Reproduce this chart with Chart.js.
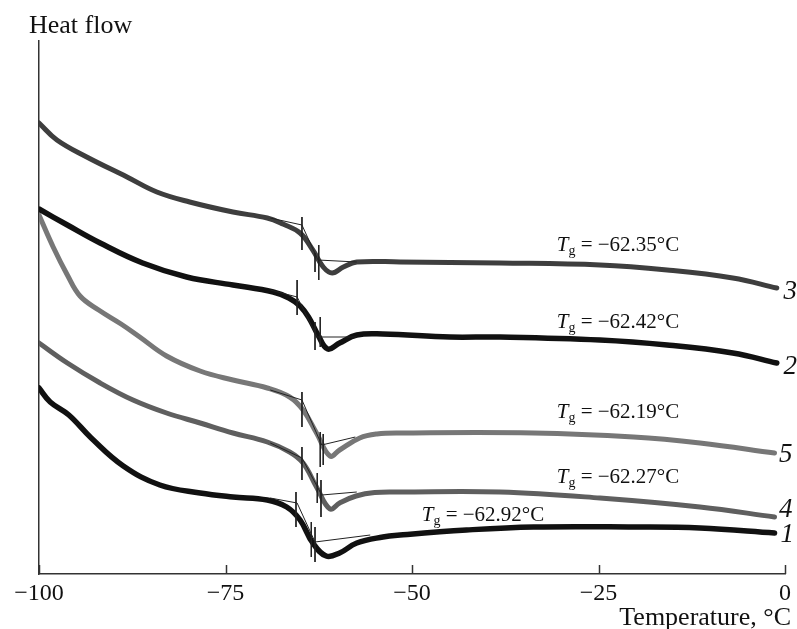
<!DOCTYPE html>
<html>
<head>
<meta charset="utf-8">
<script src="https://cdn.jsdelivr.net/npm/chart.js@4/dist/chart.umd.min.js"></script>
<style>
  body { margin: 0; background: #fff; }
</style>
</head>
<body>
<canvas id="dsc" width="797" height="629"></canvas>
<script>
// --- DATA (temperature in °C, heat flow in arbitrary units) ---
const tickTemps = [-100, -75, -50, -25, 0];

const temp3 = [-100, -97.6, -93.6, -88.2, -84.2, -79.8, -74.0, -69.4, -67.3, -65.0, -63.3, -61.9, -60.7, -59.2, -57.4, -51.6, -38.2, -24.8, -15.8, -7.0, -1.1];
const heat3 = [45.1, 43.4, 41.7, 39.7, 38.2, 37.2, 36.2, 35.6, 35.0, 34.1, 32.4, 30.7, 30.1, 30.7, 31.2, 31.2, 31.1, 30.9, 30.4, 29.6, 28.6];

const temp2 = [-100, -96.2, -91.8, -86.1, -80.2, -74.0, -68.6, -66.5, -65.0, -63.8, -62.6, -61.3, -59.7, -57.4, -53.9, -44.9, -38.2, -24.8, -15.8, -7.0, -1.1];
const heat2 = [36.5, 34.9, 33.1, 31.1, 29.7, 28.9, 28.2, 27.6, 26.8, 25.6, 23.9, 22.5, 23.1, 23.9, 24.0, 23.7, 23.7, 23.4, 22.9, 22.1, 21.1];

const temp5 = [-100, -98.1, -96.2, -94.5, -92.0, -89.0, -86.5, -82.9, -78.4, -74.0, -69.4, -66.4, -64.6, -62.8, -61.0, -59.7, -57.0, -54.7, -51.6, -33.7, -20.3, -11.4, -1.4];
const heat5 = [35.9, 32.7, 29.9, 27.8, 26.4, 25.0, 23.7, 21.8, 20.3, 19.4, 18.6, 17.7, 16.4, 14.1, 11.8, 12.4, 13.6, 14.0, 14.1, 14.1, 13.7, 13.1, 12.1];

const temp4 = [-100, -96.2, -91.8, -87.4, -82.9, -78.4, -74.0, -69.4, -66.4, -64.6, -62.8, -61.0, -59.7, -57.5, -55.0, -51.6, -38.2, -24.8, -11.4, -1.4];
const heat4 = [23.1, 21.1, 19.1, 17.4, 16.1, 15.1, 14.1, 13.2, 12.2, 11.1, 8.7, 6.5, 7.1, 7.8, 8.15, 8.2, 8.2, 7.6, 6.7, 5.7];

const temp1 = [-100, -98.5, -96.0, -93.0, -88.7, -83.8, -78.4, -74.0, -69.4, -66.8, -65.0, -63.3, -61.5, -59.7, -57.4, -53.9, -51.6, -42.7, -33.7, -20.3, -11.4, -1.4];
const heat1 = [18.6, 17.2, 15.9, 13.6, 10.8, 8.9, 8.1, 7.7, 7.4, 6.7, 5.4, 3.1, 1.8, 2.1, 3.1, 3.7, 3.9, 4.4, 4.7, 4.7, 4.6, 4.1];

// tangent construction lines around the glass transition
const guide3X = [-69.0, -64.75, -62.6, -57.4], guide3Y = [35.6, 34.9, 31.4, 31.2];
const guide2X = [-69.0, -65.4, -62.7, -57.4], guide2Y = [28.4, 27.7, 23.7, 23.7];
const guide5X = [-69.0, -64.75, -62.1, -57.6], guide5Y = [18.4, 17.4, 12.9, 13.7];
const guide4X = [-69.0, -64.75, -62.1, -57.4], guide4Y = [13.1, 11.6, 7.9, 8.2];
const guide1X = [-69.0, -65.4, -63.0, -55.6], guide1Y = [7.6, 7.1, 3.2, 3.9];

// short vertical markers (onset / midpoint / end)
const mark3X = [-64.75, -63.0, -62.5], mark3Top = [35.7, 32.1, 32.9], mark3Bot = [32.4, 30.2, 29.4];
const mark2X = [-65.4, -63.0, -62.3], mark2Top = [29.4, 25.2, 25.7], mark2Bot = [25.9, 22.4, 22.7];
const mark5X = [-64.75, -62.3, -61.9], mark5Top = [18.2, 14.2, 14.0], mark5Bot = [14.7, 10.7, 10.9];
const mark4X = [-64.75, -62.7, -62.2], mark4Top = [12.7, 10.1, 9.4], mark4Bot = [9.4, 7.1, 5.7];
const mark1X = [-65.55, -63.5, -63.0], mark1Top = [8.2, 5.2, 4.7], mark1Bot = [4.7, 1.7, 1.2];

// Tg annotations and curve numbers
const tgText = ['−62.35°C', '−62.42°C', '−62.19°C', '−62.27°C', '−62.92°C'];
const tgX = [-30.6, -30.6, -30.6, -30.6, -48.7];
const tgY = [32.9, 25.2, 16.2, 9.7, 5.9];
const curveNames = ['3', '2', '5', '4', '1'];
const nameX = [-1.0, -1.0, -1.6, -1.6, -1.4];
const nameY = [28.2, 20.7, 11.9, 6.4, 3.9];

// --- HELPERS ---
const SERIF = '"Liberation Serif", "DejaVu Serif", serif';

function zip(xs, ys) {
    return xs.map((x, i) => ({ x, y: ys[i] }));
}

function guidePoints(gx, gy, mx, mTop, mBot) {
    const pts = zip(gx, gy);
    mx.forEach((x, i) => {
        pts.push({ x, y: null });
        pts.push({ x, y: mTop[i] });
        pts.push({ x, y: mBot[i] });
    });
    return pts;
}

function curve(xs, ys, color, width) {
    return {
        data: zip(xs, ys),
        borderColor: color,
        borderWidth: width,
        borderJoinStyle: 'round',
        borderCapStyle: 'round',
        pointRadius: 0,
        tension: 0.4,
        order: 1
    };
}

function guide(points) {
    return {
        data: points,
        borderColor: '#222',
        borderWidth: 1,
        pointRadius: 0,
        tension: 0,
        spanGaps: false,
        order: 0
    };
}

// draws inward ticks, axis titles and in-plot labels
const annotate = {
    id: 'annotate',
    afterDraw(chart) {
        const { ctx, chartArea: area, scales: { x, y } } = chart;
        ctx.save();

        ctx.strokeStyle = '#333';
        ctx.lineWidth = 1.5;
        tickTemps.forEach(t => {
            const px = Math.round(x.getPixelForValue(t)) + 0.5;
            ctx.beginPath();
            ctx.moveTo(px, area.bottom);
            ctx.lineTo(px, area.bottom - 9);
            ctx.stroke();
        });

        ctx.fillStyle = '#111';
        ctx.textBaseline = 'alphabetic';
        ctx.font = `26px ${SERIF}`;
        ctx.textAlign = 'left';
        ctx.fillText('Heat flow', 29, 33);
        ctx.textAlign = 'right';
        ctx.fillText('Temperature, °C', 791, 625);

        ctx.textAlign = 'left';
        ctx.textBaseline = 'middle';
        tgText.forEach((txt, i) => {
            let px = x.getPixelForValue(tgX[i]);
            const py = y.getPixelForValue(tgY[i]);
            ctx.font = `italic 21px ${SERIF}`;
            ctx.fillText('T', px, py);
            px += ctx.measureText('T').width;
            ctx.font = `14px ${SERIF}`;
            ctx.fillText('g', px, py + 6);
            px += ctx.measureText('g').width;
            ctx.font = `21px ${SERIF}`;
            ctx.fillText(' = ' + txt, px, py);
        });

        ctx.font = `italic 27px ${SERIF}`;
        curveNames.forEach((n, i) => {
            ctx.fillText(n, x.getPixelForValue(nameX[i]) + 6, y.getPixelForValue(nameY[i]));
        });

        ctx.restore();
    }
};

// --- CHART ---
new Chart(document.getElementById('dsc'), {
    type: 'line',
    data: {
        datasets: [
            curve(temp3, heat3, '#3e3e3e', 5),
            curve(temp2, heat2, '#111111', 5.5),
            curve(temp5, heat5, '#777777', 5),
            curve(temp4, heat4, '#5f5f5f', 5),
            curve(temp1, heat1, '#111111', 5.5),
            guide(guidePoints(guide3X, guide3Y, mark3X, mark3Top, mark3Bot)),
            guide(guidePoints(guide2X, guide2Y, mark2X, mark2Top, mark2Bot)),
            guide(guidePoints(guide5X, guide5Y, mark5X, mark5Top, mark5Bot)),
            guide(guidePoints(guide4X, guide4Y, mark4X, mark4Top, mark4Bot)),
            guide(guidePoints(guide1X, guide1Y, mark1X, mark1Top, mark1Bot))
        ]
    },
    options: {
        responsive: false,
        animation: false,
        layout: { padding: { top: 41, right: 12, left: 0, bottom: 0 } },
        plugins: { legend: { display: false }, tooltip: { enabled: false } },
        scales: {
            x: {
                type: 'linear',
                min: -100,
                max: 0,
                afterBuildTicks: s => { s.ticks = tickTemps.map(v => ({ value: v })); },
                afterFit: s => { s.height = 55; },
                grid: { display: false, drawTicks: false },
                border: { display: true, color: '#333', width: 1.5 },
                ticks: {
                    padding: 5,
                    color: '#111',
                    font: { family: SERIF, size: 24 },
                    maxRotation: 0,
                    callback: v => String(v).replace('-', '\u2212')
                }
            },
            y: {
                min: 0,
                max: 53.3,
                afterFit: s => { s.width = 39; },
                grid: { display: false, drawTicks: false },
                border: { display: true, color: '#333', width: 1.5 },
                ticks: { display: false }
            }
        }
    },
    plugins: [annotate]
});
</script>
</body>
</html>
